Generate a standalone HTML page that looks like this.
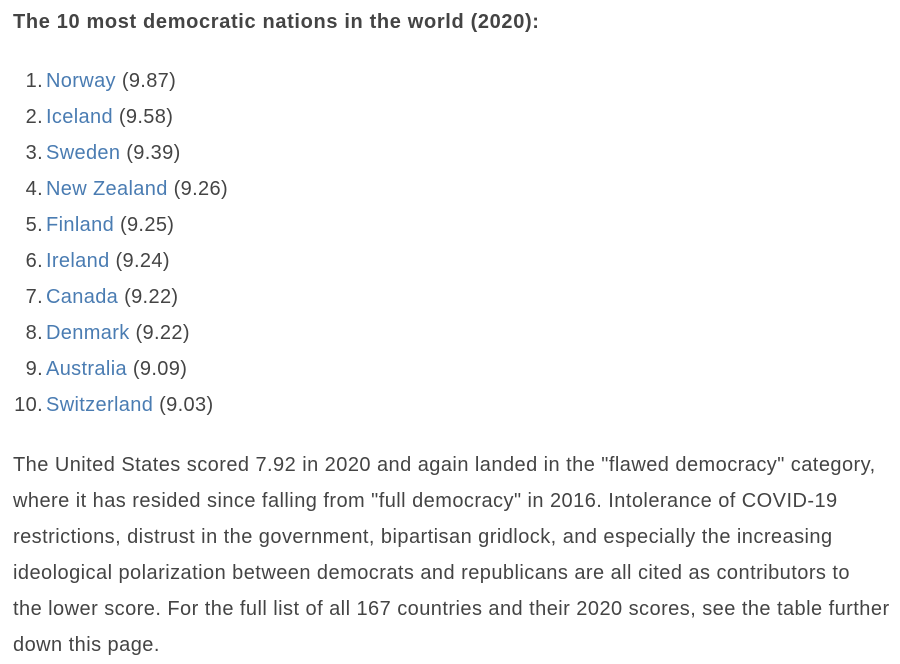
<!DOCTYPE html>
<html><head><meta charset="utf-8"><style>
html,body{margin:0;padding:0;background:#fff;width:900px;height:664px;overflow:hidden}
body{font-family:"Liberation Sans",sans-serif;color:#444;font-size:20px;letter-spacing:0.45px}
h2{position:absolute;left:13px;top:8px;margin:0;font-size:20px;font-weight:bold;line-height:28px;color:#444;letter-spacing:0.65px}
ol{position:absolute;left:0;top:63px;margin:0;padding:0;list-style:none}
li{position:absolute;left:0;height:36px;line-height:36px;white-space:nowrap;letter-spacing:0.35px}
li .n{display:inline-block;width:43px;text-align:right;margin-right:3px}
a{color:#4a7cb2;text-decoration:none}
.p{position:absolute;left:13px;top:447px}
.p div{height:36px;line-height:36px;white-space:nowrap}
</style></head><body>
<h2>The 10 most democratic nations in the world (2020):</h2>
<ol>
<li style="top:0"><span class="n">1.</span><a>Norway</a> (9.87)</li>
<li style="top:36px"><span class="n">2.</span><a>Iceland</a> (9.58)</li>
<li style="top:72px"><span class="n">3.</span><a>Sweden</a> (9.39)</li>
<li style="top:108px"><span class="n">4.</span><a>New Zealand</a> (9.26)</li>
<li style="top:144px"><span class="n">5.</span><a>Finland</a> (9.25)</li>
<li style="top:180px"><span class="n">6.</span><a>Ireland</a> (9.24)</li>
<li style="top:216px"><span class="n">7.</span><a>Canada</a> (9.22)</li>
<li style="top:252px"><span class="n">8.</span><a>Denmark</a> (9.22)</li>
<li style="top:288px"><span class="n">9.</span><a>Australia</a> (9.09)</li>
<li style="top:324px"><span class="n">10.</span><a>Switzerland</a> (9.03)</li>
</ol>
<div class="p">
<div>The United States scored 7.92 in 2020 and again landed in the "flawed democracy" category,</div>
<div>where it has resided since falling from "full democracy" in 2016. Intolerance of COVID-19</div>
<div>restrictions, distrust in the government, bipartisan gridlock, and especially the increasing</div>
<div>ideological polarization between democrats and republicans are all cited as contributors to</div>
<div>the lower score. For the full list of all 167 countries and their 2020 scores, see the table further</div>
<div>down this page.</div>
</div>
</body></html>
